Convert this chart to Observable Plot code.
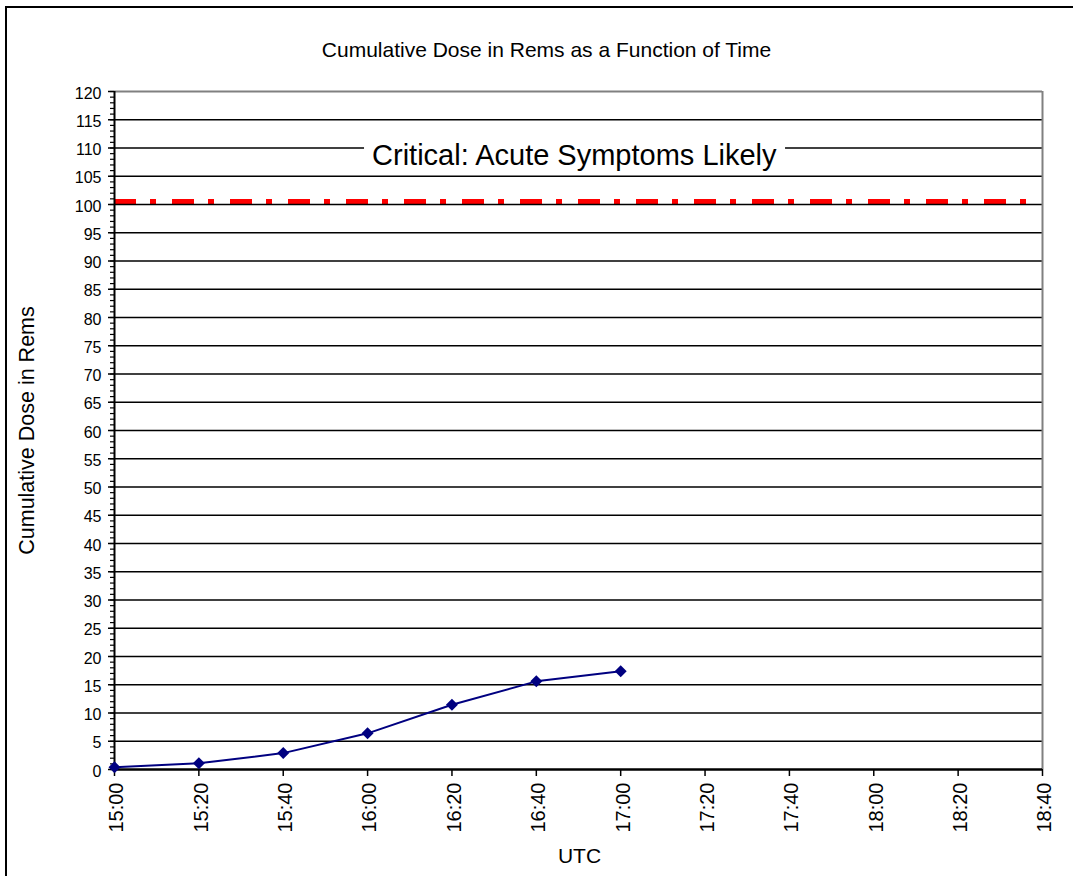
<!DOCTYPE html>
<html><head><meta charset="utf-8">
<script src="https://cdn.jsdelivr.net/npm/d3@7"></script>
<script src="https://cdn.jsdelivr.net/npm/@observablehq/plot@0.6"></script>
<style>
html,body{margin:0;padding:0;background:#fff;overflow:hidden;}
#wrap{position:relative;width:1073px;height:876px;overflow:hidden;}
#bl{position:absolute;left:5px;top:6px;width:2px;height:900px;background:#000;pointer-events:none;}
#bt{position:absolute;left:5px;top:6px;width:1100px;height:2px;background:#000;pointer-events:none;}
</style></head><body>
<div id="wrap"><div id="chart"></div><div id="bl"></div><div id="bt"></div></div>
<script>
const times = ["15:00","15:20","15:40","16:00","16:20","16:40","17:00"];
const doses = [0.4, 1.1, 2.9, 6.4, 11.45, 15.6, 17.4];
const xTickLabels = ["15:00","15:20","15:40","16:00","16:20","16:40","17:00","17:20","17:40","18:00","18:20","18:40"];
const yTickValues = [0,5,10,15,20,25,30,35,40,45,50,55,60,65,70,75,80,85,90,95,100,105,110,115,120];
const threshold = [100];
const thresholdLabel = ["Critical: Acute Symptoms Likely"];
const labelTime = ["16:49"];
const labelValue = [108.6];
const titleText = ["Cumulative Dose in Rems as a Function of Time"];
const xLabel = ["UTC"];
const yLabel = ["Cumulative Dose in Rems"];

const parse = d3.utcParse("%H:%M");
const data = times.map((t, i) => ({time: parse(t), dose: doses[i]}));
const xTicks = xTickLabels.map(parse);
const annot = thresholdLabel.map((s, i) => ({t: parse(labelTime[i]), v: labelValue[i], s}));
const font = "'Liberation Sans', Arial, sans-serif";

const chart = Plot.plot({
  width: 1073, height: 876,
  marginLeft: 114, marginRight: 31, marginTop: 91, marginBottom: 107,
  style: {fontFamily: font, background: "#fff", color: "#000"},
  x: {type: "utc", domain: [xTicks[0], xTicks[xTicks.length - 1]]},
  y: {domain: [0, 120]},
  marks: [
    Plot.ruleY(threshold, {stroke: "#ff0000", strokeWidth: 5, strokeDasharray: "22,14,6,16", dy: -3}),
    Plot.ruleY(yTickValues.filter(v => v > 0 && v < 120), {stroke: "#000", strokeWidth: 1.3}),
    Plot.ruleY([yTickValues[yTickValues.length - 1]], {stroke: "#808080", strokeWidth: 2}),
    Plot.ruleX([xTicks[xTicks.length - 1]], {stroke: "#808080", strokeWidth: 2}),
    Plot.axisY({ticks: d3.range(0, 121), tickSize: 4, tickFormat: () => "", label: null, strokeWidth: 1.2}),
    Plot.axisY({ticks: yTickValues, tickSize: 6, tickFormat: () => "", label: null, strokeWidth: 1.5}),
    Plot.axisY({ticks: yTickValues, tickSize: 0, tickPadding: 13, fontSize: 16, dy: 2, label: null, tickFormat: d => String(d)}),
    Plot.axisX({ticks: xTicks, tickSize: 7, tickFormat: () => "", label: null, strokeWidth: 1.5}),
    Plot.axisX({ticks: xTicks, tickSize: 0, tickPadding: 13, tickRotate: -90, fontSize: 20, dx: 2.5, tickFormat: d3.utcFormat("%H:%M"), label: null}),
    Plot.ruleY([0], {stroke: "#000", strokeWidth: 2.5}),
    Plot.ruleX([xTicks[0]], {stroke: "#000", strokeWidth: 2}),
    Plot.line(data, {x: "time", y: "dose", stroke: "#000080", strokeWidth: 2}),
    Plot.dot(data, {x: "time", y: "dose", symbol: "diamond2", r: 5.4, fill: "#000080", stroke: "none"}),
    Plot.text(annot, {x: "t", y: "v", text: "s", fontSize: 29, fill: "#000"}),
    Plot.text(titleText, {frameAnchor: "top", dx: -32, dy: -49, fontSize: 21, fill: "#000"}),
    Plot.text(xLabel, {frameAnchor: "bottom", dx: 1, dy: 93, fontSize: 21, fill: "#000"}),
    Plot.text(yLabel, {frameAnchor: "left", textAnchor: "middle", rotate: -90, dx: -87, fontSize: 21.5, fill: "#000"})
  ]
});
document.getElementById("chart").appendChild(chart);

// white box behind the threshold label
const svgRect = chart.getBoundingClientRect();
chart.querySelectorAll("text").forEach(t => {
  if (t.textContent === thresholdLabel[0]) {
    const b = t.getBoundingClientRect();
    let top = t;
    while (top.parentNode && top.parentNode !== chart) top = top.parentNode;
    const r = document.createElementNS("http://www.w3.org/2000/svg", "rect");
    r.setAttribute("x", b.left - svgRect.left - 8);
    r.setAttribute("y", b.top - svgRect.top - 3);
    r.setAttribute("width", b.width + 16);
    r.setAttribute("height", b.height + 4);
    r.setAttribute("fill", "#fff");
    chart.insertBefore(r, top);
  }
});
</script>
</body></html>
